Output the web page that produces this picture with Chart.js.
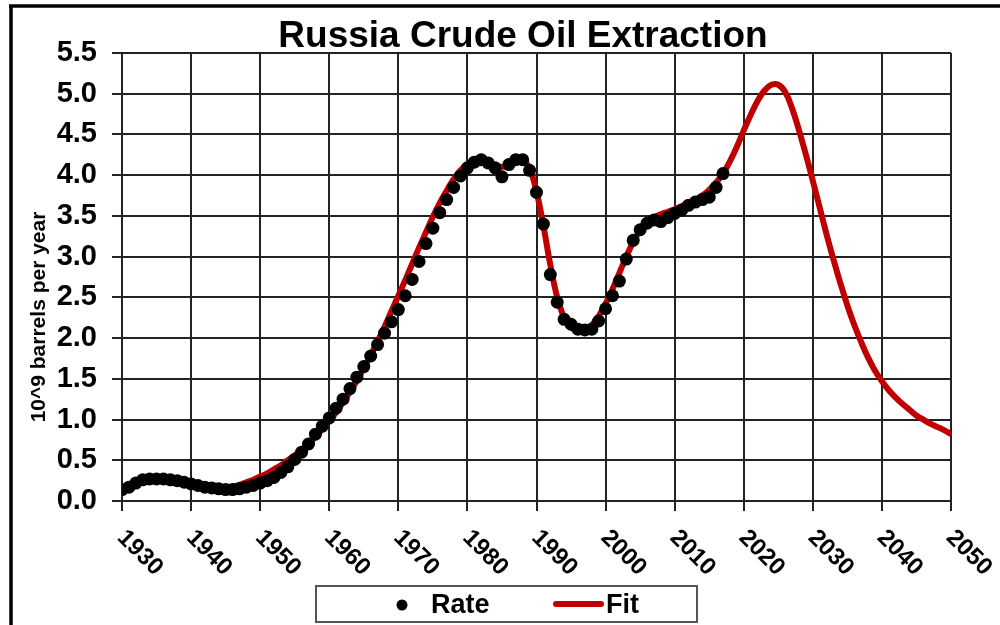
<!DOCTYPE html>
<html><head><meta charset="utf-8">
<script src="https://cdn.jsdelivr.net/npm/chart.js@4/dist/chart.umd.min.js"></script>
<style>html,body{margin:0;padding:0;background:#fff;}#wrap{width:1000px;height:625px;position:relative;}</style>
</head><body><div id="wrap"><canvas id="c" width="1000" height="625"></canvas></div>
<script>
const chartTitle = 'Russia Crude Oil Extraction';
const yAxisTitle = '10^9 barrels per year';
const legendLabels = ['Rate', 'Fit'];

const rateYears = [
 1930,1931,1932,1933,1934,1935,1936,1937,1938,1939,
 1940,1941,1942,1943,1944,1945,1946,1947,1948,1949,
 1950,1951,1952,1953,1954,1955,1956,1957,1958,1959,
 1960,1961,1962,1963,1964,1965,1966,1967,1968,1969,
 1970,1971,1972,1973,1974,1975,1976,1977,1978,1979,
 1980,1981,1982,1983,1984,1985,1986,1987,1988,1989,
 1990,1991,1992,1993,1994,1995,1996,1997,1998,1999,
 2000,2001,2002,2003,2004,2005,2006,2007,2008,2009,
 2010,2011,2012,2013,2014,2015,2016,2017];
const rateValues = [
 0.14,0.17,0.22,0.26,0.27,0.27,0.27,0.26,0.25,0.23,
 0.21,0.19,0.17,0.16,0.15,0.14,0.14,0.15,0.17,0.19,
 0.22,0.25,0.29,0.35,0.42,0.51,0.60,0.70,0.82,0.92,
 1.02,1.14,1.25,1.38,1.52,1.65,1.78,1.92,2.06,2.20,
 2.35,2.52,2.72,2.94,3.16,3.35,3.54,3.70,3.85,3.99,
 4.09,4.16,4.19,4.15,4.09,3.98,4.13,4.19,4.19,4.06,
 3.79,3.40,2.78,2.44,2.23,2.17,2.11,2.10,2.11,2.21,
 2.36,2.52,2.70,2.97,3.20,3.33,3.41,3.45,3.43,3.48,
 3.53,3.57,3.63,3.67,3.70,3.73,3.85,4.02];

const fitYears = [
 1945,1946,1947,1948,1949,1950,1951,1952,1953,1954,
 1955,1956,1957,1958,1959,1960,1961,1962,1963,1964,
 1965,1966,1967,1968,1969,1970,1971,1972,1973,1974,
 1975,1976,1977,1978,1979,1980,1981,1982,1983,1984,
 1985,1986,1987,1988,1989,1990,1991,1992,1993,1994,
 1995,1996,1997,1998,1999,2000,2001,2002,2003,2004,
 2005,2006,2007,2008,2009,2010,2011,2012,2013,2014,
 2015,2016,2017,2018,2019,2020,2021,2022,2023,2024,
 2025,2026,2027,2028,2029,2030,2031,2032,2033,2034,
 2035,2036,2037,2038,2039,2040,2041,2042,2043,2044,
 2045,2046,2047,2048,2049,2050];
const fitValues = [
 0.15,0.17,0.20,0.23,0.26,0.30,0.34,0.39,0.44,0.50,
 0.56,0.63,0.70,0.79,0.88,0.98,1.09,1.21,1.34,1.48,
 1.63,1.79,1.96,2.14,2.33,2.52,2.71,2.91,3.11,3.30,
 3.49,3.66,3.81,3.95,4.06,4.13,4.17,4.18,4.16,4.12,
 4.10,4.13,4.17,4.18,4.08,3.80,3.38,2.90,2.50,2.25,
 2.13,2.09,2.10,2.16,2.27,2.42,2.60,2.80,3.00,3.18,
 3.32,3.42,3.48,3.52,3.55,3.58,3.62,3.66,3.70,3.75,
 3.82,3.91,4.02,4.17,4.35,4.55,4.74,4.91,5.04,5.11,
 5.11,5.02,4.82,4.55,4.25,3.93,3.60,3.27,2.96,2.67,
 2.40,2.16,1.95,1.76,1.60,1.47,1.36,1.27,1.19,1.12,
 1.05,1.00,0.95,0.91,0.87,0.82];

const xTickLabels = ['1930','1940','1950','1960','1970','1980','1990','2000','2010','2020','2030','2040','2050'];
const yTickLabels = ['0.0','0.5','1.0','1.5','2.0','2.5','3.0','3.5','4.0','4.5','5.0','5.5'];

const rateColor = '#000000';
const fitColor = '#c00000';
const gridColor = '#222222';
const FONT = '"Liberation Sans", Arial, sans-serif';

const decor = {
  id: 'decor',
  beforeDraw(chart) {
    const ctx = chart.ctx;
    ctx.save();
    ctx.fillStyle = '#fff';
    ctx.fillRect(0, 0, chart.width, chart.height);
    ctx.strokeStyle = '#000';
    ctx.lineWidth = 3.5;
    ctx.beginPath();
    ctx.moveTo(9, 6); ctx.lineTo(1000, 6);
    ctx.moveTo(11, 6); ctx.lineTo(11, 625);
    ctx.stroke();
    ctx.restore();
  },
  afterDraw(chart) {
    const ctx = chart.ctx;
    const xs = chart.scales.x;
    const area = chart.chartArea;
    ctx.save();
    // title
    ctx.fillStyle = '#000';
    ctx.font = 'bold 37px ' + FONT;
    ctx.textAlign = 'center';
    ctx.textBaseline = 'alphabetic';
    ctx.fillText(chartTitle, 523, 47);
    // y axis title
    ctx.save();
    ctx.translate(45, 317);
    ctx.rotate(-Math.PI / 2);
    ctx.font = 'bold 21px ' + FONT;
    ctx.textAlign = 'center';
    ctx.textBaseline = 'alphabetic';
    ctx.fillText(yAxisTitle, 0, 0);
    ctx.restore();
    // x tick labels rotated +45deg
    ctx.font = 'bold 24px ' + FONT;
    ctx.textAlign = 'left';
    ctx.textBaseline = 'middle';
    xTickLabels.forEach(lbl => {
      const px = xs.getPixelForValue(Number(lbl));
      ctx.save();
      ctx.translate(px - 1, area.bottom + 33);
      ctx.rotate(Math.PI / 4);
      ctx.fillText(lbl, 0, 0);
      ctx.restore();
    });
    // legend
    ctx.lineWidth = 2;
    ctx.strokeStyle = '#555';
    ctx.strokeRect(316, 586, 381, 36);
    ctx.fillStyle = rateColor;
    ctx.beginPath();
    ctx.arc(402, 605, 5.5, 0, Math.PI * 2);
    ctx.fill();
    ctx.font = 'bold 27px ' + FONT;
    ctx.textAlign = 'left';
    ctx.textBaseline = 'alphabetic';
    ctx.fillStyle = '#000';
    ctx.fillText(legendLabels[0], 431, 613);
    ctx.strokeStyle = fitColor;
    ctx.lineWidth = 6;
    ctx.lineCap = 'round';
    ctx.beginPath();
    ctx.moveTo(556, 604); ctx.lineTo(601, 604);
    ctx.stroke();
    ctx.fillText(legendLabels[1], 606, 613);
    ctx.restore();
  }
};

new Chart(document.getElementById('c'), {
  type: 'line',
  data: {
    datasets: [
      {
        label: legendLabels[0],
        data: rateYears.map((y, i) => ({x: y, y: rateValues[i]})),
        showLine: false,
        pointRadius: 6.5,
        pointBackgroundColor: rateColor,
        pointBorderWidth: 0,
        borderColor: rateColor,
        backgroundColor: rateColor,
        order: 0
      },
      {
        label: legendLabels[1],
        data: fitYears.map((y, i) => ({x: y, y: fitValues[i]})),
        borderColor: fitColor,
        backgroundColor: fitColor,
        borderWidth: 6,
        pointRadius: 0,
        tension: 0.4,
        fill: false,
        order: 1
      }
    ]
  },
  options: {
    responsive: false,
    animation: false,
    devicePixelRatio: 1,
    layout: {padding: {left: 0, right: 49, top: 53, bottom: 0}},
    plugins: {legend: {display: false}, title: {display: false}, tooltip: {enabled: false}},
    scales: {
      x: {
        type: 'linear', min: 1930, max: 2050,
        ticks: {stepSize: 10, display: false},
        grid: {color: gridColor, lineWidth: 2, tickLength: 10, drawTicks: true},
        border: {color: gridColor, width: 2},
        afterFit: s => { s.height = 124; }
      },
      y: {
        min: 0, max: 5.5,
        ticks: {
          stepSize: 0.5, color: '#000', padding: 15,
          font: {family: FONT, size: 29, weight: 'bold'},
          callback: (v, i) => yTickLabels[i]
        },
        grid: {color: gridColor, lineWidth: 2, tickLength: 10, drawTicks: true},
        border: {color: gridColor, width: 2},
        afterFit: s => { s.width = 122; }
      }
    }
  },
  plugins: [decor]
});
</script></body></html>
